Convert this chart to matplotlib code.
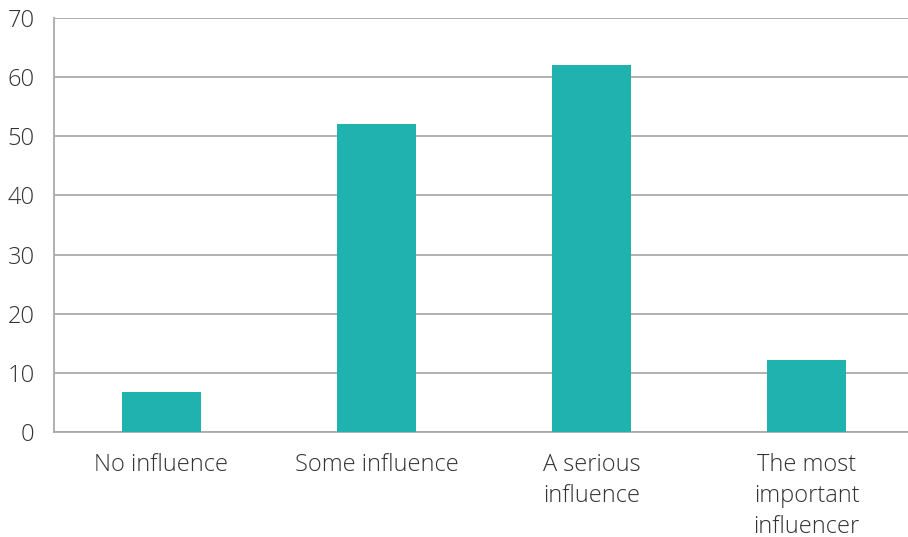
import matplotlib.pyplot as plt

categories = ['No influence', 'Some influence', 'A serious\ninfluence', 'The most\nimportant\ninfluencer']
values = [6.8, 52, 62, 12.2]
yticks = [0, 10, 20, 30, 40, 50, 60, 70]

plt.rcParams['font.family'] = ['Open Sans', 'DejaVu Sans']

fig = plt.figure(figsize=(9.08, 5.37), dpi=100)
ax = fig.add_axes([54 / 908, 1 - 432 / 537, 860 / 908, 414 / 537])

x = range(len(categories))
ax.bar(x, values, width=0.37, color='#20B2AE', zorder=3)

ax.set_xlim(-0.5, 3.5)
ax.set_ylim(0, 70)
ax.set_yticks(yticks)
ax.set_xticks(list(x))
ax.set_xticklabels(categories, linespacing=1.38)
ax.tick_params(axis='y', length=0, pad=14, labelsize=17, labelcolor='#333333')
ax.tick_params(axis='x', length=0, pad=15, labelsize=17, labelcolor='#333333')
for lbl in ax.get_xticklabels() + ax.get_yticklabels():
    lbl.set_fontweight('light')

ax.grid(axis='y', color='#aaaaaa', linewidth=1.3, zorder=0)
for side in ['top', 'right']:
    ax.spines[side].set_visible(False)
ax.spines['left'].set_color('#aaaaaa')
ax.spines['bottom'].set_color('#aaaaaa')
ax.spines['left'].set_linewidth(1.3)
ax.spines['bottom'].set_linewidth(1.3)

fig.savefig('out.png', dpi=100)
